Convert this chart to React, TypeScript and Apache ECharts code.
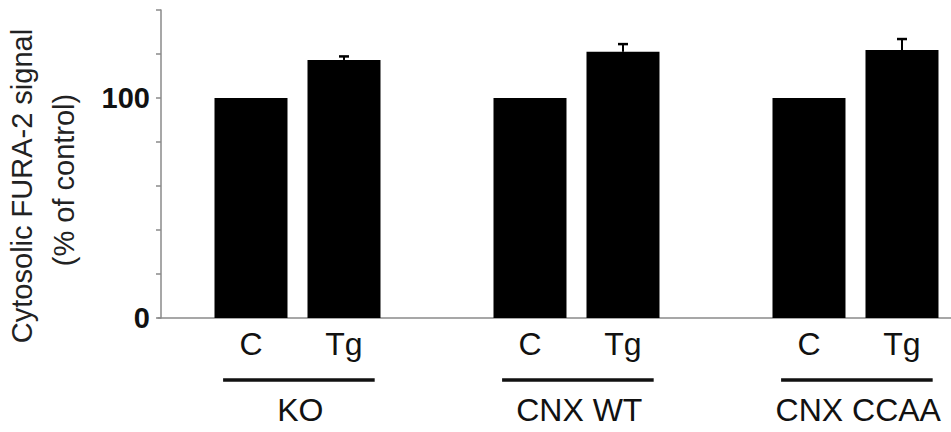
import React, { useEffect, useRef } from "react";
import * as echarts from "echarts";

// ---- data ----
const barLabels = ["C", "Tg", "", "C", "Tg", "", "C", "Tg"];
const barValues: (number | null)[] = [100, 117.3, null, 100, 121, null, 100, 121.8];
const barErrors: (number | null)[] = [0, 1.6, null, 0, 3.5, null, 0, 5];
const groupNames = ["KO", "CNX WT", "CNX CCAA"];
const groupStart = [0, 3, 6];
const yTickLabels: Record<number, string> = { 0: "0", 100: "100" };
const yTitle = ["Cytosolic FURA-2 signal", "(% of control)"];

const FONT = "'Liberation Sans', Arial, Helvetica, sans-serif";

export default function App() {
  const ref = useRef<HTMLDivElement>(null);
  useEffect(() => {
    if (!ref.current) return;
    const chart = echarts.init(ref.current, null, { renderer: "svg" });
    const barData = barValues
      .map((v, i) => (v == null ? null : [i, v]))
      .filter((d) => d != null);
    const errData = barValues
      .map((v, i) =>
        v == null || !barErrors[i] ? null : [i, v, v + (barErrors[i] as number)]
      )
      .filter((d) => d != null);

    chart.setOption({
      animation: false,
      grid: { left: 158, right: 0, top: 10, bottom: 114, containLabel: false },
      xAxis: {
        type: "value",
        min: -1,
        max: 7.527,
        interval: 1,
        splitLine: { show: false },
        axisTick: { show: false },
        axisLine: { show: true, onZero: false, lineStyle: { color: "#8a8a8a", width: 1.5 } },
        axisLabel: {
          show: true,
          margin: 10,
          fontSize: 32,
          color: "#111",
          fontFamily: FONT,
          showMinLabel: false,
          showMaxLabel: false,
          formatter: (v: number) =>
            Number.isInteger(v) && v >= 0 && v < barLabels.length ? barLabels[v] : "",
        },
      },
      yAxis: {
        type: "value",
        min: 0,
        max: 140,
        interval: 20,
        offset: -3,
        splitLine: { show: false },
        axisLine: { show: true, onZero: false, lineStyle: { color: "#8a8a8a", width: 1.5 } },
        axisTick: { show: true, inside: false, length: 5, lineStyle: { color: "#8a8a8a", width: 1.5 } },
        axisLabel: {
          margin: 11,
          fontSize: 29,
          fontWeight: "bold",
          color: "#111",
          fontFamily: FONT,
          formatter: (v: number) => yTickLabels[v] ?? "",
        },
      },
      series: [
        {
          type: "bar",
          data: barData,
          barWidth: 73,
          itemStyle: { color: "#000" },
        },
        {
          type: "custom",
          data: errData,
          z: 3,
          renderItem: (params: any, api: any) => {
            const x = api.value(0);
            const top = api.coord([x, api.value(2)]);
            const base = api.coord([x, api.value(1)]);
            const half = 5;
            return {
              type: "group",
              children: [
                {
                  type: "line",
                  shape: { x1: top[0], y1: top[1], x2: base[0], y2: base[1] },
                  style: { stroke: "#000", lineWidth: 2 },
                },
                {
                  type: "line",
                  shape: { x1: top[0] - half, y1: top[1], x2: top[0] + half, y2: top[1] },
                  style: { stroke: "#000", lineWidth: 2.5 },
                },
              ],
            };
          },
        },
      ],
    });

    // group lines and names placed through the chart's own scale
    const graphics: any[] = [];
    groupNames.forEach((name, g) => {
      const s = groupStart[g];
      const left = chart.convertToPixel({ gridIndex: 0 }, [s - 0.3, 0]) as number[];
      const right = chart.convertToPixel({ gridIndex: 0 }, [s + 1.33, 0]) as number[];
      const mid = chart.convertToPixel({ gridIndex: 0 }, [s + 0.53, 0]) as number[];
      graphics.push({
        type: "line",
        shape: { x1: left[0], y1: 380, x2: right[0], y2: 380 },
        style: { stroke: "#111", lineWidth: 3.5 },
      });
      graphics.push({
        type: "text",
        x: mid[0],
        y: 410,
        style: {
          text: name,
          fontSize: 32,
          fontFamily: FONT,
          fill: "#111",
          textAlign: "center",
          textVerticalAlign: "middle",
        },
      });
    });
    graphics.push({
      type: "text",
      x: 22,
      y: 186,
      rotation: Math.PI / 2,
      style: {
        text: yTitle[0],
        fontSize: 29,
        fontFamily: FONT,
        fill: "#222",
        textAlign: "center",
        textVerticalAlign: "middle",
      },
    });
    graphics.push({
      type: "text",
      x: 64,
      y: 180,
      rotation: Math.PI / 2,
      style: {
        text: yTitle[1],
        fontSize: 29,
        fontFamily: FONT,
        fill: "#222",
        textAlign: "center",
        textVerticalAlign: "middle",
      },
    });
    chart.setOption({ graphic: graphics });

    return () => chart.dispose();
  }, []);
  return (
    <div
      ref={ref}
      style={{ position: "fixed", left: 0, top: 0, width: 951, height: 432, background: "#fff" }}
    />
  );
}
